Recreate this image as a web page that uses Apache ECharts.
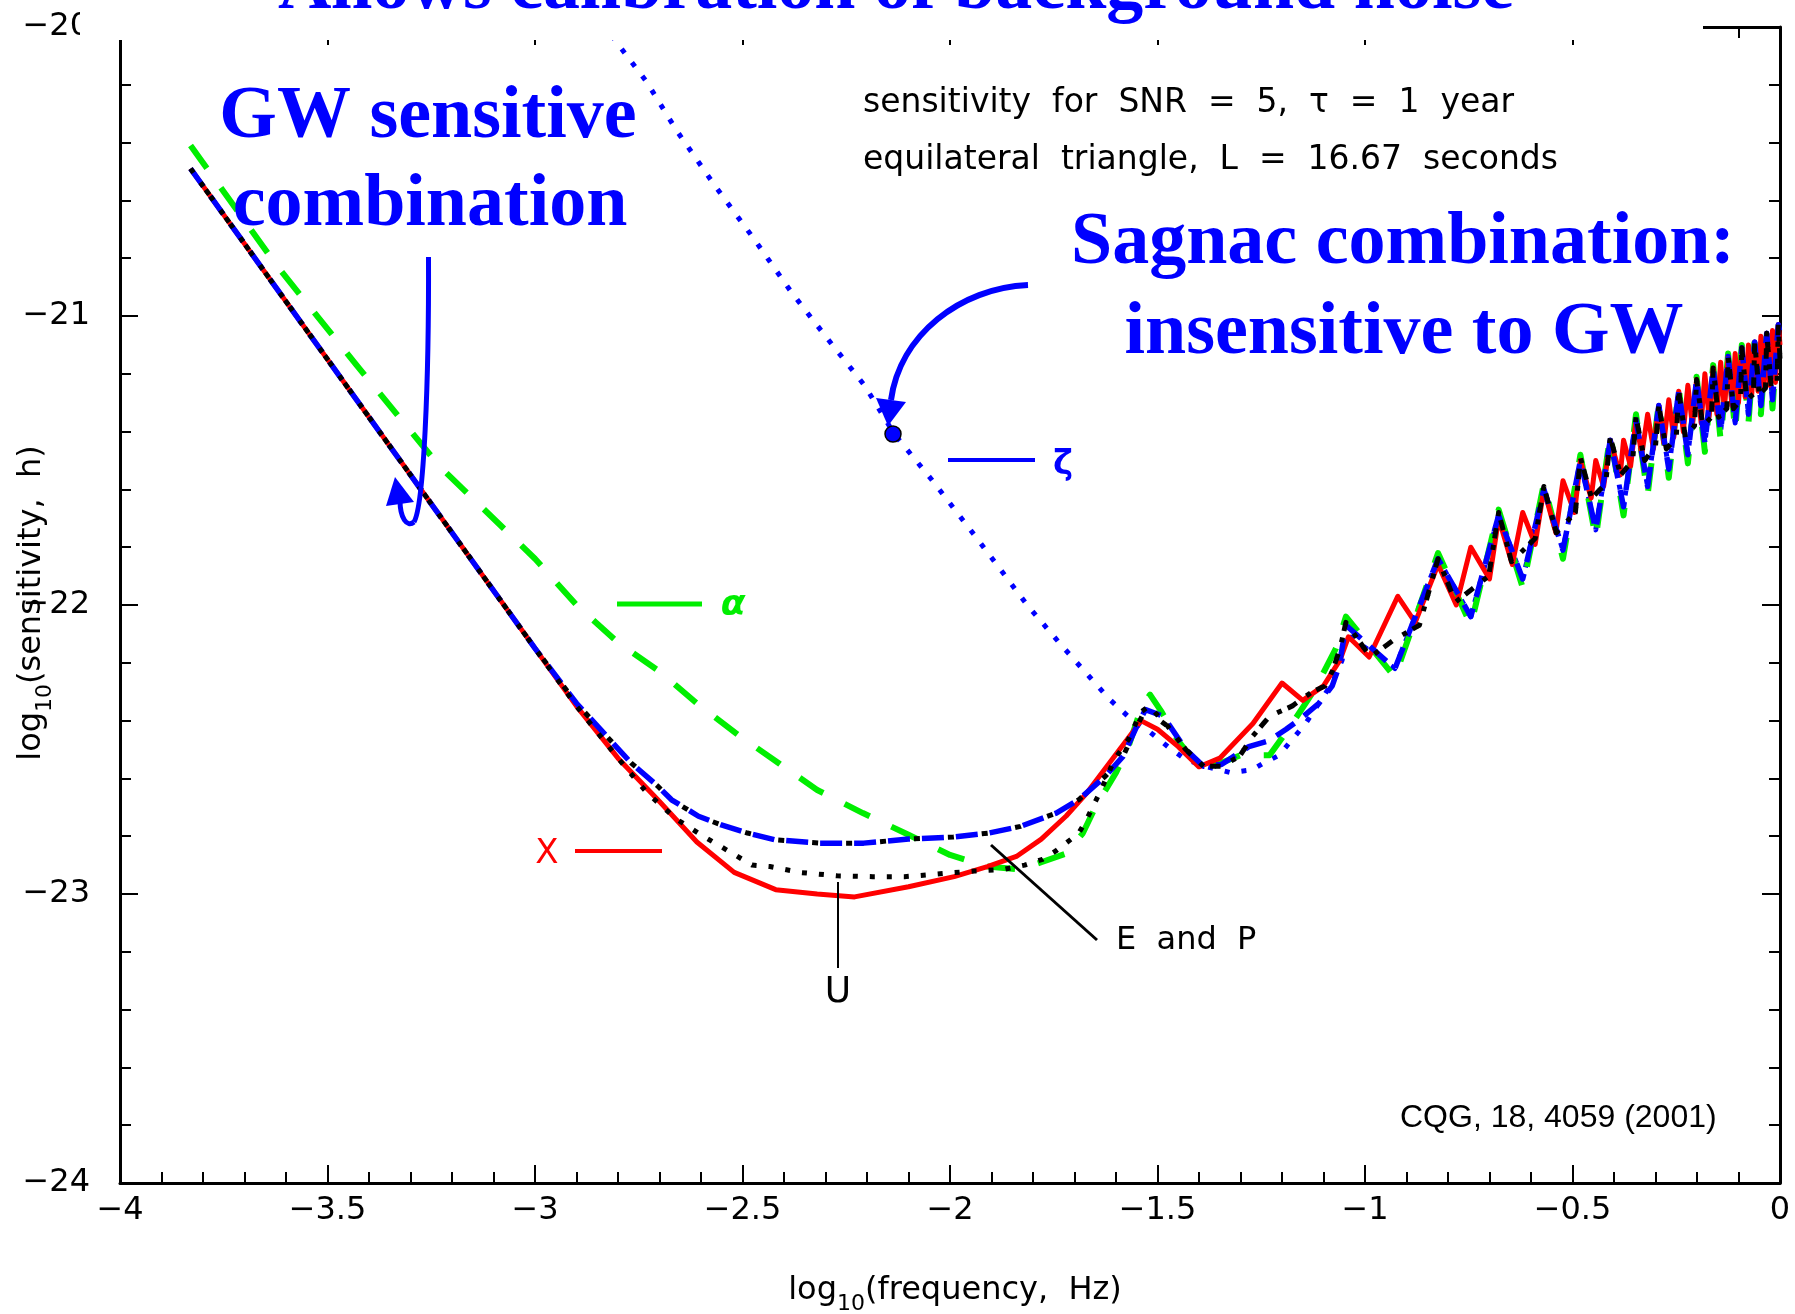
<!DOCTYPE html>
<html>
<head>
<meta charset="utf-8">
<title>TDI sensitivity curves</title>
<script src="https://cdn.jsdelivr.net/npm/echarts@6/dist/echarts.min.js"></script>
<style>
  html, body { margin: 0; padding: 0; background: #fff; }
  #main { width: 1795px; height: 1314px; }
</style>
</head>
<body>
<div id="main"></div>
<script>
// values, [log10 f, log10 h]

// X, red solid
const xCurve = [
  [-3.83, -20.49], [-3.40, -21.35], [-3.00, -22.15], [-2.90, -22.35], [-2.80, -22.53],
  [-2.70, -22.68], [-2.61, -22.82], [-2.52, -22.925], [-2.42, -22.985], [-2.32, -23.0],
  [-2.23, -23.01], [-2.10, -22.975], [-1.99, -22.94], [-1.91, -22.905], [-1.84, -22.87],
  [-1.78, -22.81], [-1.72, -22.73], [-1.67, -22.65], [-1.615, -22.545], [-1.56, -22.44],
  [-1.54, -22.40], [-1.50, -22.43], [-1.45, -22.49], [-1.40, -22.56], [-1.35, -22.53],
  [-1.27, -22.41], [-1.20, -22.27], [-1.15, -22.33], [-1.10, -22.28], [-1.06, -22.19],
  [-1.04, -22.11], [-0.99, -22.18], [-0.921, -21.97], [-0.879, -22.06], [-0.824, -21.86],
  [-0.78, -22.0], [-0.745, -21.80], [-0.70, -21.91], [-0.678, -21.70], [-0.645, -21.86],
  [-0.62, -21.68], [-0.59, -21.79], [-0.569, -21.60], [-0.54, -21.75], [-0.523, -21.57],
  [-0.495, -21.68], [-0.481, -21.50], [-0.455, -21.63], [-0.444, -21.50], [-0.425, -21.59],
  [-0.409, -21.43], [-0.385, -21.55], [-0.377, -21.43], [-0.36, -21.52], [-0.347, -21.36],
  [-0.333, -21.48], [-0.319, -21.34], [-0.305, -21.46], [-0.292, -21.31], [-0.280, -21.44],
  [-0.268, -21.29], [-0.256, -21.42], [-0.244, -21.26], [-0.233, -21.40], [-0.222, -21.24],
  [-0.211, -21.38], [-0.201, -21.22], [-0.190, -21.37], [-0.181, -21.20], [-0.171, -21.35],
  [-0.161, -21.18], [-0.152, -21.34], [-0.143, -21.16], [-0.134, -21.32], [-0.125, -21.14],
  [-0.116, -21.31], [-0.108, -21.13], [-0.100, -21.30], [-0.092, -21.11], [-0.084, -21.28],
  [-0.076, -21.10], [-0.068, -21.27], [-0.061, -21.09], [-0.053, -21.26], [-0.046, -21.07],
  [-0.039, -21.25], [-0.032, -21.06], [-0.025, -21.24], [-0.018, -21.05], [-0.011, -21.23],
  [-0.004, -21.03], [0, -21.10]
];

// alpha, green dashed
const alphaCurve = [
  [-3.83, -20.41], [-3.62, -20.83], [-3.43, -21.17], [-3.23, -21.52], [-3.00, -21.84],
  [-2.90, -22.00], [-2.80, -22.13], [-2.70, -22.23], [-2.61, -22.34], [-2.51, -22.45],
  [-2.41, -22.55], [-2.32, -22.64], [-2.21, -22.72], [-2.10, -22.795], [-2.00, -22.865],
  [-1.91, -22.905], [-1.83, -22.915], [-1.78, -22.89], [-1.72, -22.86], [-1.68, -22.79],
  [-1.65, -22.70], [-1.60, -22.58], [-1.57, -22.49], [-1.54, -22.36], [-1.518, -22.31],
  [-1.49, -22.37], [-1.45, -22.47], [-1.41, -22.545], [-1.37, -22.56], [-1.30, -22.52],
  [-1.23, -22.52], [-1.18, -22.42], [-1.12, -22.29], [-1.07, -22.15], [-1.046, -22.04],
  [-0.928, -22.25], [-0.824, -21.82], [-0.745, -22.07], [-0.678, -21.67], [-0.62, -21.94],
  [-0.569, -21.58], [-0.523, -21.84], [-0.481, -21.48], [-0.444, -21.77], [-0.409, -21.41],
  [-0.377, -21.69], [-0.347, -21.34], [-0.319, -21.62], [-0.292, -21.30], [-0.268, -21.56],
  [-0.244, -21.25], [-0.222, -21.51], [-0.201, -21.21], [-0.181, -21.47], [-0.161, -21.17],
  [-0.143, -21.43], [-0.125, -21.13], [-0.108, -21.40], [-0.092, -21.10], [-0.076, -21.37],
  [-0.061, -21.08], [-0.046, -21.34], [-0.032, -21.05], [-0.018, -21.32], [-0.004, -21.02],
  [0, -21.05]
];

// zeta (Sagnac), blue dotted, down to the first peak
const zetaHead = [
  [-2.86, -19.93], [-2.805, -20.05], [-2.731, -20.19], [-2.658, -20.36], [-2.566, -20.55],
  [-2.474, -20.73], [-2.381, -20.92], [-2.289, -21.09], [-2.206, -21.24], [-2.135, -21.407],
  [-2.045, -21.565], [-1.94, -21.76], [-1.814, -22.0], [-1.733, -22.137], [-1.663, -22.25],
  [-1.615, -22.327], [-1.562, -22.397], [-1.518, -22.44], [-1.475, -22.49], [-1.432, -22.535],
  [-1.38, -22.56], [-1.324, -22.58], [-1.272, -22.57], [-1.248, -22.55], [-1.207, -22.52],
  [-1.176, -22.466], [-1.143, -22.41], [-1.111, -22.34], [-1.079, -22.27], [-1.055, -22.19],
  [-1.046, -22.10]
];

// U, black dotted, trough part
const uTrough = [
  [-3.83, -20.49], [-3.00, -22.15], [-2.90, -22.35], [-2.80, -22.53], [-2.73, -22.65],
  [-2.66, -22.74], [-2.595, -22.80], [-2.553, -22.835], [-2.477, -22.90], [-2.434, -22.905],
  [-2.358, -22.926], [-2.272, -22.937], [-2.186, -22.94], [-2.11, -22.94], [-2.046, -22.933],
  [-1.99, -22.926], [-1.937, -22.92], [-1.874, -22.916], [-1.82, -22.90], [-1.777, -22.88],
  [-1.744, -22.85], [-1.69, -22.79], [-1.67, -22.74], [-1.636, -22.64], [-1.604, -22.535],
  [-1.57, -22.465], [-1.54, -22.37], [-1.52, -22.35]
];

// E and P share the trough
const epTrough = [
  [-3.83, -20.49], [-3.00, -22.15], [-2.90, -22.34], [-2.83, -22.45], [-2.768, -22.547],
  [-2.704, -22.627], [-2.671, -22.674], [-2.606, -22.731], [-2.553, -22.76], [-2.488, -22.789],
  [-2.423, -22.812], [-2.316, -22.824], [-2.208, -22.824], [-2.10, -22.81], [-1.992, -22.803],
  [-1.906, -22.789], [-1.83, -22.766], [-1.744, -22.72], [-1.69, -22.674], [-1.626, -22.593],
  [-1.583, -22.524], [-1.55, -22.42], [-1.529, -22.362]
];

const blueRise = [
  [-1.486, -22.385], [-1.432, -22.50], [-1.389, -22.558], [-1.346, -22.552], [-1.28, -22.49],
  [-1.232, -22.47], [-1.19, -22.43], [-1.152, -22.39], [-1.111, -22.34], [-1.079, -22.28],
  [-1.062, -22.21], [-1.046, -22.07]
];

const blackRise = [
  [-1.475, -22.42], [-1.432, -22.50], [-1.389, -22.558], [-1.346, -22.558], [-1.302, -22.523],
  [-1.272, -22.456], [-1.23, -22.385], [-1.176, -22.35], [-1.127, -22.30], [-1.096, -22.28],
  [-1.079, -22.23], [-1.06, -22.15], [-1.046, -22.06]
];

// high frequency wiggles
const blueTail = [
  [-0.928, -22.22], [-0.824, -21.84], [-0.745, -22.04], [-0.678, -21.69], [-0.62, -21.91],
  [-0.569, -21.60], [-0.523, -21.81], [-0.481, -21.50], [-0.444, -21.74], [-0.409, -21.43],
  [-0.377, -21.66], [-0.347, -21.36], [-0.319, -21.59], [-0.292, -21.31], [-0.268, -21.53],
  [-0.244, -21.26], [-0.222, -21.48], [-0.201, -21.22], [-0.181, -21.44], [-0.161, -21.18],
  [-0.143, -21.40], [-0.125, -21.14], [-0.108, -21.37], [-0.092, -21.11], [-0.076, -21.34],
  [-0.061, -21.09], [-0.046, -21.31], [-0.032, -21.06], [-0.018, -21.29], [-0.004, -21.03],
  [0, -21.06]
];

const blackTail = [
  [-0.987, -22.18], [-0.93, -22.12], [-0.869, -22.07], [-0.824, -21.84], [-0.782, -21.99],
  [-0.702, -21.90], [-0.678, -21.68], [-0.647, -21.85], [-0.59, -21.77], [-0.569, -21.59],
  [-0.539, -21.75], [-0.493, -21.68], [-0.481, -21.49], [-0.454, -21.63], [-0.42, -21.58],
  [-0.409, -21.42], [-0.384, -21.55], [-0.355, -21.50], [-0.347, -21.35], [-0.326, -21.50],
  [-0.30, -21.45], [-0.292, -21.31], [-0.274, -21.46], [-0.25, -21.42], [-0.244, -21.26],
  [-0.228, -21.42], [-0.206, -21.38], [-0.201, -21.22], [-0.186, -21.38], [-0.165, -21.35],
  [-0.161, -21.18], [-0.148, -21.35], [-0.128, -21.32], [-0.125, -21.14], [-0.112, -21.32],
  [-0.095, -21.29], [-0.092, -21.11], [-0.080, -21.29], [-0.064, -21.27], [-0.061, -21.09],
  [-0.050, -21.27], [-0.035, -21.25], [-0.032, -21.06], [-0.021, -21.25], [-0.007, -21.23],
  [-0.004, -21.03], [0, -21.15]
];

const zetaCurve = zetaHead.concat(blueTail);
const uCurve = uTrough.concat(blackRise, blackTail);
const eCurve = epTrough.concat(blueRise, blueTail);
const pCurve = epTrough.concat(blackRise, blackTail);

const RED = '#ff0000';
const GREEN = '#00ee00';
const BLUE = '#0000ff';
const SANS = 'DejaVu Sans';
const SERIF = 'Liberation Serif';

const chart = echarts.init(document.getElementById('main'));

const minus = v => (v < 0 ? '\u2212' + (-v) : String(v));

function frameAxis(pos, isX) {
  return {
    type: 'value',
    position: pos,
    min: isX ? -4 : -24,
    max: isX ? 0 : -20,
    interval: isX ? 0.5 : 1,
    axisLine: { onZero: false, lineStyle: { color: '#000', width: 3 } },
    axisTick: { inside: true, length: 18, lineStyle: { color: '#000', width: 2 } },
    minorTick: { show: true, splitNumber: 5, length: 11, lineStyle: { color: '#000', width: 2 } },
    splitLine: { show: false },
    axisLabel: (pos === 'bottom' || pos === 'left') ? {
      margin: isX ? 12 : 30,
      color: '#000',
      fontSize: 32,
      fontFamily: SANS,
      showMinLabel: true,
      showMaxLabel: true,
      formatter: minus
    } : { show: false }
  };
}

function curve(name, data, color, width, dash, offset) {
  return {
    name: name,
    type: 'line',
    data: data,
    showSymbol: false,
    symbol: 'none',
    smooth: false,
    clip: true,
    lineStyle: { color: color, width: width, type: dash || 'solid', dashOffset: offset || 0, cap: 'butt', join: 'round' }
  };
}

function label(text, x, y, color, size, extra) {
  return {
    type: 'text', x: x, y: y, z: 60,
    style: Object.assign({
      text: text, fill: color, fontSize: size, fontFamily: SANS,
      align: 'center', verticalAlign: 'middle'
    }, extra || {})
  };
}

function bigBlue(text, x, y) {
  return {
    type: 'text', x: x, y: y, z: 70,
    style: {
      text: text, fill: BLUE, fontSize: 74, fontFamily: SERIF, fontWeight: 'bold',
      align: 'center', verticalAlign: 'middle'
    }
  };
}

function seg(x1, y1, x2, y2, color, w) {
  return { type: 'line', z: 60, shape: { x1: x1, y1: y1, x2: x2, y2: y2 }, style: { stroke: color, lineWidth: w } };
}

const option = {
  backgroundColor: '#fff',
  animation: false,
  grid: { left: 120, right: 15, top: 27, bottom: 131, containLabel: false, outerBoundsMode: 'none' },
  xAxis: [frameAxis('bottom', true), frameAxis('top', true)],
  yAxis: [frameAxis('left', false), frameAxis('right', false)],
  series: [
    curve('zeta', zetaCurve, BLUE, 5, [5, 12]),
    curve('alpha', alphaCurve, GREEN, 6, [28, 24]),
    curve('X', xCurve, RED, 5),
    curve('E', eCurve, BLUE, 5.5, [22, 12]),
    curve('U', uCurve, '#000', 5, [5, 12]),
    curve('P', pCurve, '#000', 5, [6, 28], 8)
  ],
  graphic: [
    // slide text box that hides the top of the frame
    { type: 'rect', z: 50, shape: { x: 80, y: 0, width: 1623, height: 40 }, style: { fill: '#fff' } },
    bigBlue('Allows calibration of background noise', 896, -11),
    bigBlue('GW sensitive', 428, 118),
    bigBlue('combination', 430, 206),
    bigBlue('Sagnac combination:', 1403, 244),
    bigBlue('insensitive to GW', 1404, 334),

    label('sensitivity  for  SNR  =  5,  \u03c4  =  1  year', 863, 103, '#000', 33, { align: 'left' }),
    label('equilateral  triangle,  L  =  16.67  seconds', 863, 160, '#000', 33, { align: 'left' }),
    label('CQG, 18, 4059 (2001)', 1400, 1118, '#000', 32, { align: 'left', fontFamily: 'Liberation Sans' }),

    // curve labels
    seg(575, 851, 662, 851, RED, 4),
    label('X', 547, 854, RED, 34),
    seg(617, 604, 702, 604, GREEN, 5),
    label('\u03b1', 733, 606, GREEN, 36, { fontStyle: 'italic', fontWeight: 'bold' }),
    seg(948, 460, 1035, 460, BLUE, 4),
    label('\u03b6', 1063, 465, BLUE, 34, { fontWeight: 'bold' }),
    seg(838, 882, 838, 968, '#000', 2),
    label('U', 838, 993, '#000', 36),
    seg(991, 845, 1097, 940, '#000', 3),
    label('E  and  P', 1116, 941, '#000', 32, { align: 'left' }),

    // arrows
    { type: 'bezierCurve', z: 60,
      shape: { x1: 428.5, y1: 257, x2: 414, y2: 522, cpx1: 429, cpy1: 380, cpx2: 424, cpy2: 505 },
      style: { stroke: BLUE, lineWidth: 5, fill: null } },
    { type: 'bezierCurve', z: 60,
      shape: { x1: 414, y1: 522, x2: 400, y2: 500, cpx1: 407, cpy1: 528, cpx2: 400, cpy2: 518 },
      style: { stroke: BLUE, lineWidth: 5, fill: null } },
    { type: 'polygon', z: 60, shape: { points: [[395, 477], [386, 506], [414, 502]] }, style: { fill: BLUE } },
    { type: 'bezierCurve', z: 60,
      shape: { x1: 1028, y1: 285, x2: 891, y2: 400, cpx1: 960, cpy1: 288, cpx2: 900, cpy2: 335 },
      style: { stroke: BLUE, lineWidth: 6, fill: null } },
    { type: 'polygon', z: 60, shape: { points: [[888, 426], [876, 398], [906, 402]] }, style: { fill: BLUE } },
    { type: 'circle', z: 61, shape: { cx: 893, cy: 434, r: 8 }, style: { fill: BLUE, stroke: '#000', lineWidth: 1.5 } },

    // axis titles
    {
      type: 'text', x: 955, y: 1291, z: 60,
      style: {
        text: '{a|log}{b|10}{a|(frequency,  Hz)}',
        align: 'center', verticalAlign: 'middle',
        rich: {
          a: { fontSize: 32, fontFamily: SANS, fill: '#000', lineHeight: 48 },
          b: { fontSize: 22, fontFamily: SANS, fill: '#000', lineHeight: 22, verticalAlign: 'bottom' }
        }
      }
    },
    {
      type: 'text', x: 32, y: 603, z: 60, rotation: Math.PI / 2,
      style: {
        text: '{a|log}{b|10}{a|(sensitivity,  h)}',
        align: 'center', verticalAlign: 'middle',
        rich: {
          a: { fontSize: 32, fontFamily: SANS, fill: '#000', lineHeight: 48 },
          b: { fontSize: 22, fontFamily: SANS, fill: '#000', lineHeight: 22, verticalAlign: 'bottom' }
        }
      }
    }
  ]
};

chart.setOption(option);
</script>
</body>
</html>
